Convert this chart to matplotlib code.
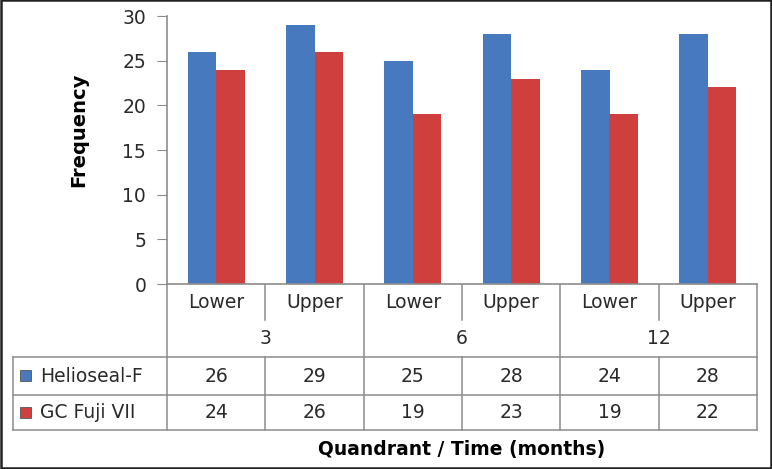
import matplotlib
matplotlib.use("Agg")
import matplotlib.pyplot as plt
import numpy as np
from matplotlib.patches import Rectangle
from matplotlib.transforms import blended_transform_factory

quadrants = ["Lower", "Upper", "Lower", "Upper", "Lower", "Upper"]
times = ["3", "6", "12"]
series_names = ["Helioseal-F", "GC Fuji VII"]
helioseal = [26, 29, 25, 28, 24, 28]
fuji = [24, 26, 19, 23, 19, 22]
colors = ["#4679BD", "#CF3F3D"]

W, H = 772, 469
GRID = "#8c8c8c"
FONT = "DejaVu Sans"
FS = 13.5
TXT = "#2a2a2a"

fig = plt.figure(figsize=(W / 100, H / 100), dpi=100)
ax = fig.add_axes([167 / W, 1 - 284 / H, 590 / W, 268 / H])

x = np.arange(len(quadrants))
width = 0.29
for k, vals in enumerate([helioseal, fuji]):
    ax.bar(x + (k - 0.5) * width, vals, width, color=colors[k], zorder=2)

ax.set_xlim(-0.5, len(quadrants) - 0.5)
ax.set_ylim(0, 30)
ax.set_yticks(range(0, 31, 5))
ax.set_xticks([])
ax.tick_params(axis="y", direction="out", length=7, color=GRID, labelsize=FS, pad=8, labelcolor=TXT)
for lab in ax.get_yticklabels():
    lab.set_family(FONT)
for side in ["top", "right"]:
    ax.spines[side].set_visible(False)
for side in ["left", "bottom"]:
    ax.spines[side].set_color(GRID)
    ax.spines[side].set_linewidth(1.2)
ax.set_ylabel("Frequency", fontsize=14, fontweight="bold", family=FONT)
ax.yaxis.set_label_coords(-0.134, 0.575)

# overlay in pixel coordinates for the data table
ov = fig.add_axes([0, 0, 1, 1], zorder=-1)
ov.set_xlim(0, W)
ov.set_ylim(H, 0)
ov.axis("off")
tr = blended_transform_factory(ax.transData, ov.transData)

y_axis, y_split, y_r1, y_r2, y_end = 284, 320, 357, 395, 430
left_edge = 13
n = len(quadrants)
bounds = np.arange(n + 1) - 0.5
for i, b in enumerate(bounds):
    if i % 2 == 0:
        ov.plot([b, b], [y_axis, y_end], color=GRID, lw=1.1, transform=tr)
    else:
        ov.plot([b, b], [y_axis, y_split], color=GRID, lw=1.1, transform=tr)
        ov.plot([b, b], [y_r1, y_end], color=GRID, lw=1.1, transform=tr)

x_right = ax.transData.transform((bounds[-1], 0))[0]
for yy in [y_r1, y_r2, y_end]:
    ov.plot([left_edge, x_right], [yy, yy], color=GRID, lw=1.1)
ov.plot([left_edge, left_edge], [y_r1, y_end], color=GRID, lw=1.1)

for i, q in enumerate(quadrants):
    ov.text(i, 302, q, transform=tr, ha="center", va="center", fontsize=FS, family=FONT, color=TXT)
for j, t in enumerate(times):
    ov.text(2 * j + 0.5, 338, t, transform=tr, ha="center", va="center", fontsize=FS, family=FONT, color=TXT)

rows = [helioseal, fuji]
row_y = [376, 413]
for k, (vals, yy) in enumerate(zip(rows, row_y)):
    for i, v in enumerate(vals):
        ov.text(i, yy, str(v), transform=tr, ha="center", va="center", fontsize=FS, family=FONT, color=TXT)
    ov.add_patch(Rectangle((20, yy - 6), 11, 11, facecolor=colors[k], edgecolor="#555555", lw=0.6))
    ov.text(40, yy, series_names[k], ha="left", va="center", fontsize=FS, family=FONT, color=TXT)

ov.text(462, 450, "Quandrant / Time (months)", ha="center", va="center", fontsize=FS, fontweight="bold", family=FONT)

ov.add_patch(Rectangle((0.5, 0.5), W - 1.5, H - 1.5, fill=False, edgecolor="#222222", lw=1.8))

fig.savefig("out.png", dpi=100)
